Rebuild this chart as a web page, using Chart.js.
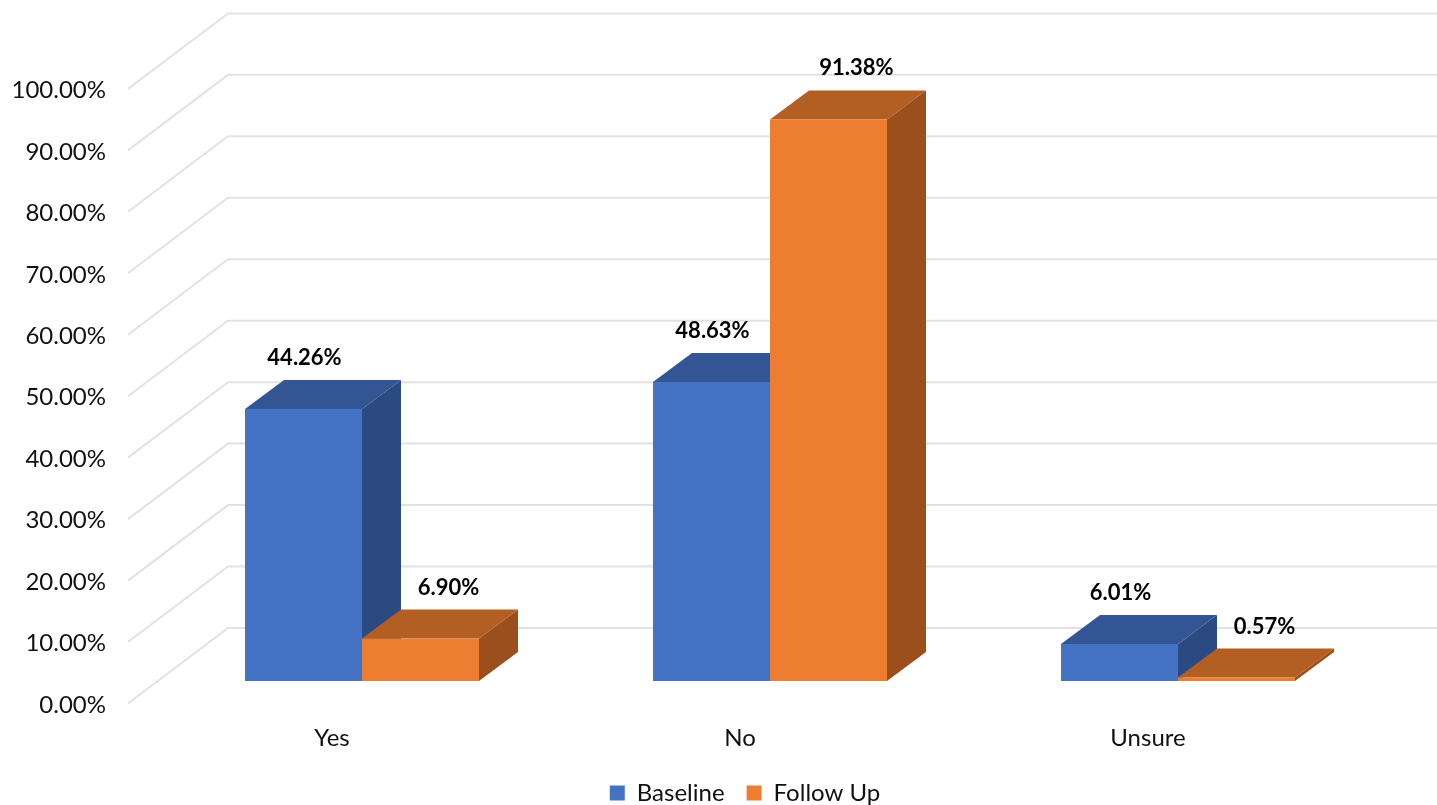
<!DOCTYPE html>
<html>
<head>
<meta charset="utf-8">
<title>Baseline vs Follow Up</title>
<script src="https://cdn.jsdelivr.net/npm/chart.js@4"></script>
<style>
    body { margin: 0; background: #fff; }
    canvas { display: block; }
</style>
</head>
<body>
<canvas id="surveyChart" width="1437" height="805"></canvas>
<script>
const categories = ['Yes', 'No', 'Unsure'];
const baseline = [44.26, 48.63, 6.01];
const followUp = [6.90, 91.38, 0.57];
const faceColors = ['#4472C4', '#ED7D31'];
const topColors = ['#335593', '#B35E22'];
const sideColors = ['#2C4A82', '#9A4F1C'];
const fontName = 'Lato, "Open Sans", sans-serif';

// the picture is a fake 3d: depth of a bar and of the floor, in px
const barDepth = { x: 39, y: -29 };
const wall = { frontX: 128, backX: 228, frontY: 22.5, backY: -53 };

function pct(v) {
    return v.toFixed(2) + '%';
}

const wallPlugin = {
    id: 'wall',
    afterLayout(chart) {
        // legend sits right of the canvas centre in the reference
        chart.legend.left += 54;
        chart.legend.right += 54;
    },
    beforeDatasetsDraw(chart) {
        const ctx = chart.ctx;
        ctx.save();
        ctx.strokeStyle = '#E2E2E2';
        ctx.lineWidth = 2;
        chart.scales.y.ticks.forEach(t => {
            const p = chart.scales.y.getPixelForValue(t.value);
            ctx.beginPath();
            ctx.moveTo(wall.frontX, p + wall.frontY);
            ctx.lineTo(wall.backX, p + wall.backY);
            ctx.lineTo(chart.width, p + wall.backY);
            ctx.stroke();
        });
        ctx.restore();

        // tops and sides go under the front faces the library draws
        chart.data.datasets.forEach((ds, i) => {
            chart.getDatasetMeta(i).data.forEach(bar => {
                const left = bar.x - bar.width / 2;
                const right = bar.x + bar.width / 2;
                const top = bar.y;
                const base = bar.base;
                ctx.fillStyle = sideColors[i];
                ctx.beginPath();
                ctx.moveTo(right, top);
                ctx.lineTo(right + barDepth.x, top + barDepth.y);
                ctx.lineTo(right + barDepth.x, base + barDepth.y);
                ctx.lineTo(right, base);
                ctx.closePath();
                ctx.fill();
                ctx.fillStyle = topColors[i];
                ctx.beginPath();
                ctx.moveTo(left, top);
                ctx.lineTo(left + barDepth.x, top + barDepth.y);
                ctx.lineTo(right + barDepth.x, top + barDepth.y);
                ctx.lineTo(right, top);
                ctx.closePath();
                ctx.fill();
            });
        });
    },
    afterDatasetsDraw(chart) {
        const ctx = chart.ctx;
        ctx.save();
        ctx.fillStyle = '#000';
        ctx.font = 'bold 22px ' + fontName;
        ctx.textAlign = 'center';
        ctx.textBaseline = 'middle';
        chart.data.datasets.forEach((ds, i) => {
            chart.getDatasetMeta(i).data.forEach((bar, j) => {
                ctx.fillText(pct(ds.data[j]), bar.x + (i === 1 ? 28 : 1), bar.y - 51);
            });
        });
        ctx.restore();
    }
};

new Chart(document.getElementById('surveyChart'), {
    type: 'bar',
    data: {
        labels: categories,
        datasets: [
            { label: 'Baseline', data: baseline, backgroundColor: faceColors[0] },
            { label: 'Follow Up', data: followUp, backgroundColor: faceColors[1] }
        ]
    },
    options: {
        responsive: false,
        animation: false,
        layout: { padding: { top: 60, left: 0, right: 55, bottom: -10 } },
        datasets: { bar: { categoryPercentage: 0.5735, barPercentage: 1 } },
        scales: {
            x: {
                grid: { display: false, drawTicks: false },
                border: { display: false },
                ticks: { color: '#111', font: { family: fontName, size: 24 }, padding: 43, labelOffset: -30 },
                afterFit(scale) { scale.height = 78; }
            },
            y: {
                min: 0,
                max: 100,
                grid: { display: false, drawTicks: false },
                border: { display: false },
                ticks: {
                    stepSize: 10,
                    color: '#111',
                    font: { family: fontName, size: 24 },
                    padding: 52,
                    labelOffset: 24,
                    callback: v => pct(v)
                },
                afterFit(scale) { scale.width = 158; }
            }
        },
        plugins: {
            tooltip: { enabled: false },
            legend: {
                position: 'bottom',
                labels: {
                    boxWidth: 15,
                    boxHeight: 15,
                    padding: 22,
                    color: '#111',
                    font: { family: fontName, size: 24 }
                }
            }
        }
    },
    plugins: [wallPlugin]
});
</script>
</body>
</html>
